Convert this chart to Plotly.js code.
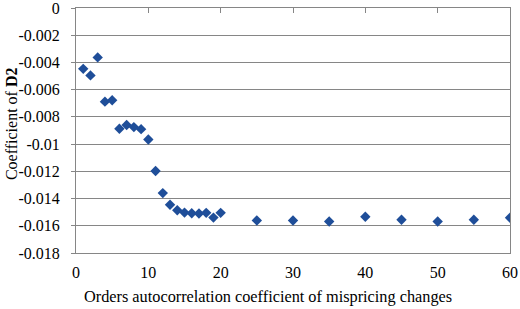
<!DOCTYPE html>
<html><head><meta charset="utf-8">
<script src="https://cdn.plot.ly/plotly-3.0.1.min.js"></script>
<style>html,body{margin:0;padding:0;background:#fff}#c{width:520px;height:309px}</style>
</head><body><div id="c"></div>
<script>
const orders = [1,2,3,4,5,6,7,8,9,10,11,12,13,14,15,16,17,18,19,20,25,30,35,40,45,50,55,60];
const coef = [-0.00447,-0.00495,-0.00363,-0.00688,-0.00678,-0.00887,-0.0086,-0.00875,-0.0089,-0.00966,
  -0.01197,-0.0136,-0.01446,-0.01486,-0.01503,-0.01508,-0.0151,-0.01505,-0.0154,-0.01505,
  -0.01561,-0.01561,-0.01569,-0.01534,-0.01556,-0.01569,-0.01556,-0.01541];
const yTicks = [0,-0.002,-0.004,-0.006,-0.008,-0.01,-0.012,-0.014,-0.016,-0.018];
const yLabels = ['0','-0.002','-0.004','-0.006','-0.008','-0.01','-0.012','-0.014','-0.016','-0.018'];
const xTicks = [0,10,20,30,40,50,60];
const xTitle = 'Orders autocorrelation coefficient of mispricing changes';
const yTitle = 'Coefficient of <b>D2</b>';

const FAM = 'Liberation Serif, serif';
function f(s){ return {family:FAM, size:s, color:'#000'}; }
Plotly.newPlot('c', [{
  x: orders, y: coef, type:'scatter', mode:'markers',
  marker:{symbol:'diamond', size:8, color:'#1F4E99'}
},{
  x: orders, y: coef, xaxis:'x2', type:'scatter', mode:'markers', hoverinfo:'skip',
  marker:{size:0, opacity:0}, showlegend:false
}], {
  width:520, height:309,
  margin:{l:76, r:10, t:8, b:56},
  paper_bgcolor:'#fff', plot_bgcolor:'#fff',
  showlegend:false,
  font: f(16),
  xaxis:{range:[0,60], tickvals:xTicks, showgrid:false, zeroline:false,
    showline:true, linecolor:'#868686', linewidth:1, ticks:'', tickfont:f(16), ticklabelstandoff:5,
    ticklabeloverflow:'allow'},
  xaxis2:{range:[0,60], tickvals:xTicks, overlaying:'x', side:'top', showgrid:false, zeroline:false,
    showline:true, linecolor:'#868686', linewidth:1, ticks:'inside', ticklen:5, tickcolor:'#868686',
    showticklabels:false},
  yaxis:{range:[-0.018,0], tickvals:yTicks, ticktext:yLabels, showgrid:true, gridcolor:'#868686', gridwidth:1,
    zeroline:false, showline:true, mirror:true, linecolor:'#868686', linewidth:1,
    ticks:'outside', ticklen:4, tickcolor:'#868686', tickfont:f(16), ticklabelstandoff:8,
    ticklabeloverflow:'allow'},
  annotations:[
    {text:xTitle, xref:'paper', yref:'paper', x:0.4424, y:-0.178, xanchor:'center', yanchor:'middle',
     showarrow:false, font:f(16.3)},
    {text:yTitle, xref:'paper', yref:'paper', x:-0.147, y:0.527, xanchor:'center', yanchor:'middle',
     textangle:-90, showarrow:false, font:f(16)}
  ]
}, {staticPlot:true});
</script></body></html>
